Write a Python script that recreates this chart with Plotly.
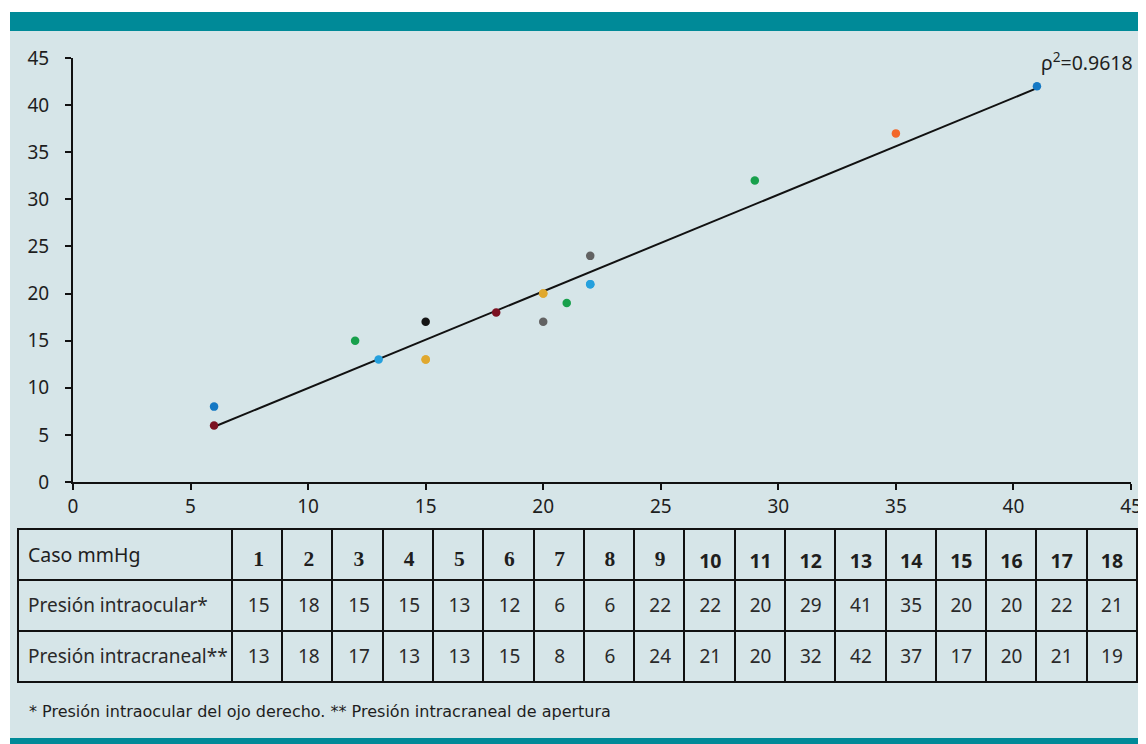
import numpy as np
import plotly.graph_objects as go

# ---- data ----
cases = [str(i) for i in range(1, 19)]
intraocular = [15, 18, 15, 15, 13, 12, 6, 6, 22, 22, 20, 29, 41, 35, 20, 20, 22, 21]
intracraneal = [13, 18, 17, 13, 13, 15, 8, 6, 24, 21, 20, 32, 42, 37, 17, 20, 21, 19]
row_labels = ["Caso mmHg", "Presión intraocular*", "Presión intracraneal**"]
x_ticks = [0, 5, 10, 15, 20, 25, 30, 35, 40, 45]
y_ticks = [0, 5, 10, 15, 20, 25, 30, 35, 40, 45]
r2_label = "ρ<sup>2</sup>=0.9618"
footnote = "* Presión intraocular del ojo derecho. ** Presión intracraneal de apertura"

# ---- styles ----
point_colors = ["#e0a82e", "#7b1121", "#151515", "#e0a82e", "#25a0dd", "#18a04c",
                "#1478c4", "#7b1121", "#626262", "#25a0dd", "#e0a82e", "#18a04c",
                "#1478c4", "#f2672a", "#626262", "#e0a82e", "#25a0dd", "#18a04c"]
BG = "#d6e5e8"
TEAL = "#008a98"
FONT = "Noto Sans"
TXT = "#1e1e1e"

# the page adds an 8px body margin; work in reference-page pixels
OFF = 8
W, H = 1146 - OFF, 744 - OFF
def px(x):
    return (x - OFF) / W
def py(y):
    return 1 - (y - OFF) / H

fig = go.Figure()

# regression line from data
slope, intercept = np.polyfit(intraocular, intracraneal, 1)
xl = np.array([min(intraocular), max(intraocular)])
fig.add_trace(go.Scatter(x=xl, y=slope * xl + intercept, mode="lines",
                         line=dict(color="#111111", width=2), hoverinfo="skip",
                         showlegend=False))

fig.add_trace(go.Scatter(x=intraocular, y=intracraneal, mode="markers",
                         marker=dict(color=point_colors, size=8.5),
                         showlegend=False, cliponaxis=False))

# table: borders-only table + text table shifted down to centre text vertically
nb = lambda s: s.replace(" ", "\u00a0")
header_vals = [row_labels[0]] + [f"<b>{c}</b>" for c in cases]
header_fonts = [FONT] + ["Liberation Serif" if int(c) < 10 else FONT for c in cases]
header_sizes = [19.5] + [21.5 if int(c) < 10 else 19.5 for c in cases]
cell_vals = [[nb(row_labels[1]), nb(row_labels[2])]] + [[str(a), str(b)] for a, b in zip(intraocular, intracraneal)]
colw = [214] + [50.3] * 18
blank_h = [""] * 19
blank_c = [["", ""] for _ in range(19)]
fig.add_trace(go.Table(
    domain=dict(x=[px(18), px(1137)], y=[py(715), py(529)]),
    columnwidth=colw,
    header=dict(values=blank_h, height=51, fill_color=BG,
                line=dict(color="#111111", width=2)),
    cells=dict(values=blank_c, height=51, fill_color=BG,
               line=dict(color="#111111", width=2)),
))
fig.add_trace(go.Table(
    domain=dict(x=[px(20), px(1137)], y=[py(725), py(539)]),
    columnwidth=colw,
    header=dict(values=header_vals, height=51,
                fill_color="rgba(0,0,0,0)", line=dict(color="rgba(0,0,0,0)", width=0),
                align=["left"] + ["center"] * 18,
                font=dict(family=header_fonts, size=header_sizes, color=TXT)),
    cells=dict(values=cell_vals, height=51,
               fill_color="rgba(0,0,0,0)", line=dict(color="rgba(0,0,0,0)", width=0),
               align=["left"] + ["center"] * 18,
               font=dict(family=FONT, size=19, color="#2a2a2a")),
))

# background shapes
fig.add_shape(type="rect", xref="paper", yref="paper", x0=px(10), x1=1, y0=0, y1=py(12),
              fillcolor=BG, line_width=0, layer="below")
fig.add_shape(type="rect", xref="paper", yref="paper", x0=px(10), x1=1, y0=py(31), y1=py(12),
              fillcolor=TEAL, line_width=0, layer="below")
fig.add_shape(type="rect", xref="paper", yref="paper", x0=px(10), x1=1, y0=0, y1=py(738),
              fillcolor=TEAL, line_width=0, layer="below")

fig.add_annotation(text=r2_label, xref="paper", yref="paper", x=px(1135), y=py(61),
                   xanchor="right", yanchor="middle", showarrow=False,
                   font=dict(family=FONT, size=19.5, color=TXT))
fig.add_annotation(text=footnote, xref="paper", yref="paper", x=px(27), y=py(711),
                   xanchor="left", yanchor="middle", showarrow=False,
                   font=dict(family="DejaVu Sans", size=16, color=TXT))

axis_common = dict(showgrid=False, zeroline=False, showline=True, linecolor="#111111",
                   linewidth=2, ticks="outside", ticklen=6, tickwidth=2, tickcolor="#111111",
                   tickfont=dict(family=FONT, size=19, color=TXT), range=[0, 45],
                   fixedrange=True, automargin=False)
fig.update_layout(
    width=W, height=H, margin=dict(l=0, r=0, t=0, b=0, pad=0, autoexpand=False),
    paper_bgcolor="white", plot_bgcolor="rgba(0,0,0,0)",
    xaxis=dict(domain=[px(73), px(1131)], tickvals=x_ticks, ticklabelstandoff=0, **axis_common),
    yaxis=dict(domain=[py(482), py(58)], tickvals=y_ticks, ticklabelstandoff=12, **axis_common),
    font=dict(family=FONT),
)

fig.write_html("out.html")
